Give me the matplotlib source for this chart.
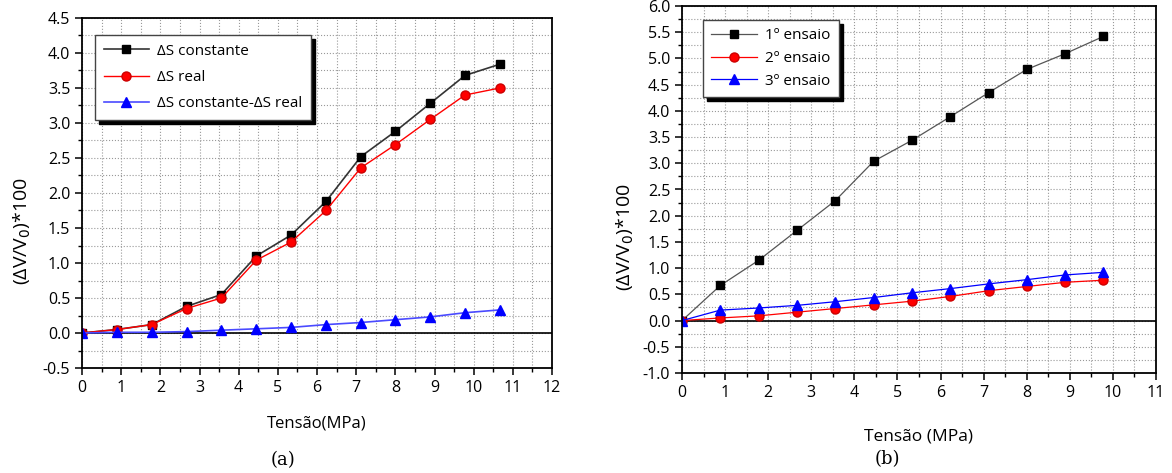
import numpy as np
import matplotlib
matplotlib.use('Agg')
import matplotlib.pyplot as plt
from matplotlib.ticker import MultipleLocator

plt.rcParams['font.family'] = ['Open Sans', 'DejaVu Sans']

# painel (a)
xa = [0, 0.89, 1.78, 2.67, 3.56, 4.45, 5.34, 6.23, 7.12, 8.0, 8.89, 9.78, 10.67]
ds_const = [0, 0.05, 0.12, 0.38, 0.55, 1.10, 1.40, 1.88, 2.52, 2.88, 3.28, 3.68, 3.84]
ds_real = [0, 0.05, 0.12, 0.35, 0.50, 1.04, 1.30, 1.75, 2.36, 2.69, 3.05, 3.40, 3.50]
ds_diff = [0, 0.01, 0.01, 0.02, 0.04, 0.06, 0.08, 0.12, 0.15, 0.19, 0.23, 0.29, 0.33]
labels_a = ['ΔS constante', 'ΔS real', 'ΔS constante-ΔS real']

# painel (b)
xb = [0, 0.89, 1.78, 2.67, 3.56, 4.45, 5.34, 6.23, 7.12, 8.0, 8.89, 9.78]
ens1 = [0, 0.67, 1.15, 1.72, 2.29, 3.04, 3.44, 3.89, 4.35, 4.79, 5.09, 5.42]
ens2 = [0, 0.05, 0.09, 0.16, 0.23, 0.30, 0.37, 0.46, 0.57, 0.65, 0.73, 0.77]
ens3 = [0, 0.20, 0.24, 0.29, 0.36, 0.44, 0.53, 0.61, 0.70, 0.78, 0.87, 0.92]
labels_b = ['1º ensaio', '2º ensaio', '3º ensaio']

fig = plt.figure(figsize=(11.72, 4.73), dpi=100)
W, H = 1172, 473
axa = fig.add_axes([82/W, 1-368/H, 470/W, 350/H])
axb = fig.add_axes([682/W, 1-373/H, 474/W, 367/H])

def style(ax, xmax, ymin, ymax):
    ax.set_xlim(0, xmax)
    ax.set_ylim(ymin, ymax)
    ax.xaxis.set_major_locator(MultipleLocator(1))
    ax.xaxis.set_minor_locator(MultipleLocator(0.5))
    ax.yaxis.set_major_locator(MultipleLocator(0.5))
    ax.yaxis.set_minor_locator(MultipleLocator(0.25))
    ax.yaxis.set_major_formatter(plt.FormatStrFormatter('%.1f'))
    ax.grid(which='both', color='#999999', linestyle=':', linewidth=0.8)
    ax.axhline(0, color='black', linewidth=1.2, zorder=2)
    ax.tick_params(which='both', direction='out', labelsize=11.5, top=False, right=False)
    ax.tick_params(which='major', length=5, width=1.1)
    ax.tick_params(which='minor', length=3, width=1.0)
    for s in ax.spines.values():
        s.set_linewidth(1.3)

style(axa, 12, -0.5, 4.5)
style(axb, 11, -1.0, 6.0)

axa.plot(xa, ds_const, '-s', color='#333333', mfc='black', mec='black', ms=6, lw=1.2, label=labels_a[0])
axa.plot(xa, ds_real, '-o', color='red', mfc='red', mec='#cc0000', ms=6.5, lw=1.0, label=labels_a[1])
axa.plot(xa, ds_diff, '-^', color='#4a4aff', mfc='blue', mec='blue', ms=6.5, lw=1.2, label=labels_a[2])

axb.plot(xb, ens1, '-s', color='#555555', mfc='black', mec='black', ms=6, lw=0.9, label=labels_b[0])
axb.plot(xb, ens2, '-o', color='red', mfc='red', mec='#cc0000', ms=6.5, lw=0.9, label=labels_b[1])
axb.plot(xb, ens3, '-^', color='blue', mfc='blue', mec='blue', ms=6.5, lw=0.9, label=labels_b[2])

for ax, loc, sp in [(axa, (0.028, 0.951), 0.75), (axb, (0.044, 0.962), 0.5)]:
    leg = ax.legend(loc='upper left', bbox_to_anchor=loc, fontsize=11, frameon=True,
                    fancybox=False, shadow={'color': 'black', 'alpha': 1, 'ox': 3, 'oy': -3},
                    edgecolor='#444444', handlelength=3, borderpad=0.55, labelspacing=sp,
                    handletextpad=0.5, borderaxespad=0)
    leg.get_frame().set_linewidth(1.0)
    leg.get_frame().set_alpha(1)

axa.set_xlabel('Tensão(MPa)', fontsize=12, labelpad=14)
axb.set_xlabel('Tensão (MPa)', fontsize=12.5, labelpad=20)
axa.set_ylabel('(ΔV/V$_0$)*100', fontsize=14)
axb.set_ylabel('(ΔV/V$_0$)*100', fontsize=14)
axa.yaxis.set_label_coords(-0.105, 0.39)
axb.yaxis.set_label_coords(-0.097, 0.37)

fig.text(283/W, 1-460/H, '(a)', family='DejaVu Serif', fontsize=13, ha='center', va='center')
fig.text(887/W, 1-459/H, '(b)', family='DejaVu Serif', fontsize=13, ha='center', va='center')

fig.savefig('out.png', dpi=100)
